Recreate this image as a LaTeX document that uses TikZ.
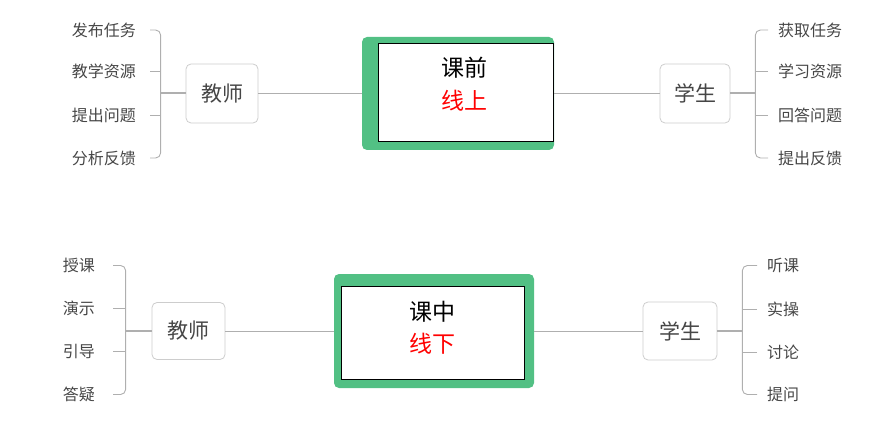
\documentclass[tikz,border=0pt]{standalone}
\usepackage{fontspec}
\setmainfont{Noto Sans CJK SC}
\usepackage{tikz}
\usetikzlibrary{positioning}

\definecolor{mapgreen}{RGB}{82,192,132}
\definecolor{linegray}{RGB}{175,175,175}
\definecolor{labelgray}{RGB}{70,70,70}
\definecolor{boxgray}{RGB}{205,205,205}

\tikzset{
    greenbox/.style={fill=mapgreen, rounded corners=5pt, inner sep=0pt},
    whitebox/.style={fill=white, draw=black, line width=0.8pt, inner sep=0pt},
    rolebox/.style={draw=boxgray, line width=0.8pt, rounded corners=5pt, fill=white,
        text=labelgray, font=\fontsize{21}{24}\selectfont, inner sep=0pt},
    leaf/.style={text=labelgray, font=\fontsize{16}{18}\selectfont, inner sep=0pt},
    link/.style={draw=linegray, line width=0.9pt},
    trunk/.style={draw=linegray, line width=2pt},
    branch/.style={draw=linegray, line width=0.9pt, rounded corners=5pt}
}

\begin{document}
\begin{tikzpicture}[x={(1pt,0pt)}, y={(0pt,-1pt)}]
    \useasboundingbox (0,0) rectangle (895,425);

    % --- upper map: before class, online
    \node[greenbox, minimum width=192pt, minimum height=113pt] (pre) at (458,93.5) {};
    \node[whitebox, minimum width=175pt, minimum height=98pt] (prebox) at (465.5,92) {};
    \node[align=center, font=\fontsize{23}{33}\selectfont, inner sep=0pt] (pretext) at (464,84.5)
        {课前\\ \textcolor{red}{线上}};

    \node[rolebox, minimum width=72pt, minimum height=59pt] (teachA) at (222,93.5) {教师};
    \node[rolebox, minimum width=70pt, minimum height=59pt] (studA) at (695,93.5) {学生};
    \draw[link] (teachA) -- (pre);
    \draw[link] (pre) -- (studA);

    \coordinate[left=25pt of teachA.west] (tjA);
    \coordinate[right=25pt of studA.east] (sjA);
    \draw[trunk] (teachA.west) -- (tjA);
    \draw[trunk] (studA.east) -- (sjA);

    \node[leaf, anchor=east] (ta1) at (136,30) {发布任务};
    \node[leaf, anchor=east] (ta2) at (136,71.5) {教学资源};
    \node[leaf, anchor=east] (ta3) at (136,115) {提出问题};
    \node[leaf, anchor=east] (ta4) at (136,158) {分析反馈};
    \draw[branch] ([xshift=14pt]ta1.east) -| (tjA) |- ([xshift=14pt]ta4.east);
    \foreach \k in {2,3}
        \draw[branch] ([xshift=14pt]ta\k.east) -- (ta\k.east -| tjA);

    \node[leaf, anchor=west] (sa1) at (778,30) {获取任务};
    \node[leaf, anchor=west] (sa2) at (778,71.5) {学习资源};
    \node[leaf, anchor=west] (sa3) at (778,115) {回答问题};
    \node[leaf, anchor=west] (sa4) at (778,158) {提出反馈};
    \draw[branch] ([xshift=-10pt]sa1.west) -| (sjA) |- ([xshift=-10pt]sa4.west);
    \foreach \k in {2,3}
        \draw[branch] ([xshift=-10pt]sa\k.west) -- (sa\k.west -| sjA);

    % --- lower map: in class, offline
    \node[greenbox, minimum width=200pt, minimum height=114pt] (mid) at (434,331) {};
    \node[whitebox, minimum width=183pt, minimum height=93pt] (midbox) at (432.5,332.5) {};
    \node[align=center, font=\fontsize{23}{32}\selectfont, inner sep=0pt] (midtext) at (432,328)
        {课中\\ \textcolor{red}{线下}};

    \node[rolebox, minimum width=73pt, minimum height=57pt] (teachB) at (188.5,331) {教师};
    \node[rolebox, minimum width=74pt, minimum height=58pt] (studB) at (680,331) {学生};
    \draw[link] (teachB) -- (mid);
    \draw[link] (mid) -- (studB);

    \coordinate[left=26pt of teachB.west] (tjB);
    \coordinate[right=25pt of studB.east] (sjB);
    \draw[trunk] (teachB.west) -- (tjB);
    \draw[trunk] (studB.east) -- (sjB);

    \node[leaf, anchor=east] (tb1) at (95,265.5) {授课};
    \node[leaf, anchor=east] (tb2) at (95,308.5) {演示};
    \node[leaf, anchor=east] (tb3) at (95,351.5) {引导};
    \node[leaf, anchor=east] (tb4) at (95,394.5) {答疑};
    \draw[branch] ([xshift=18pt]tb1.east) -| (tjB) |- ([xshift=18pt]tb4.east);
    \foreach \k in {2,3}
        \draw[branch] ([xshift=18pt]tb\k.east) -- (tb\k.east -| tjB);

    \node[leaf, anchor=west] (sb1) at (767,265.5) {听课};
    \node[leaf, anchor=west] (sb2) at (767,309) {实操};
    \node[leaf, anchor=west] (sb3) at (767,352) {讨论};
    \node[leaf, anchor=west] (sb4) at (767,394.5) {提问};
    \draw[branch] ([xshift=-10pt]sb1.west) -| (sjB) |- ([xshift=-10pt]sb4.west);
    \foreach \k in {2,3}
        \draw[branch] ([xshift=-10pt]sb\k.west) -- (sb\k.west -| sjB);
\end{tikzpicture}
\end{document}
